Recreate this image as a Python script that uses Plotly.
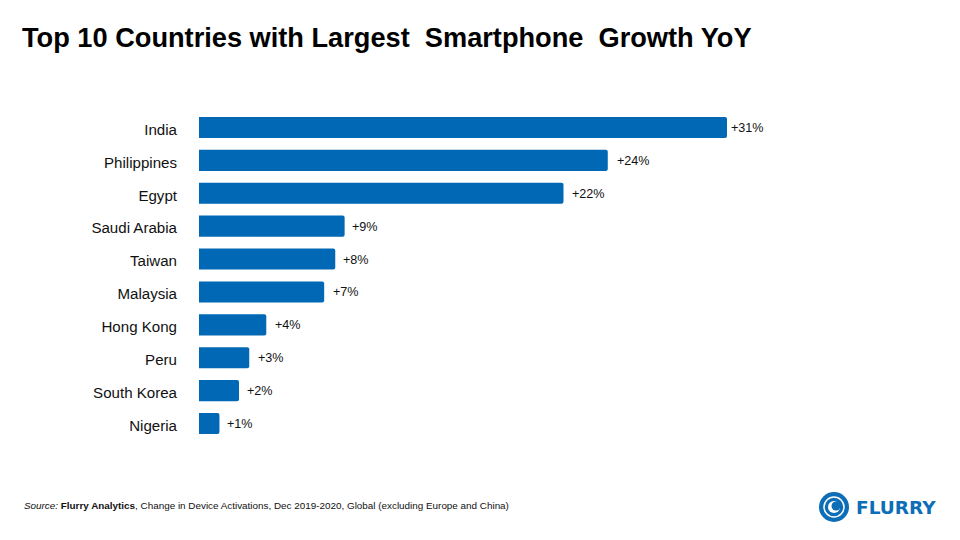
import plotly.graph_objects as go

TEXT_FONT = "Liberation Sans"
BLUE = "#0068b5"
LOGO_BLUE = "#0d6db7"

# the page puts the plot 8px in from the corner, so work in window pixels
OFFSET = 8
WIDTH = 960 - OFFSET
HEIGHT = 540 - OFFSET

countries = ["India", "Philippines", "Egypt", "Saudi Arabia", "Taiwan", "Malaysia",
             "Hong Kong", "Peru", "South Korea", "Nigeria"]
growth = [31.0, 24.0, 21.4, 8.55, 8.0, 7.35, 3.95, 2.95, 2.35, 1.2]
labels = ["+31%", "+24%", "+22%", "+9%", "+8%", "+7%", "+4%", "+3%", "+2%", "+1%"]
label_gaps = [2, 7, 7, 5, 6, 7, 7, 7, 6, 6]


def px(x):
    return (x - OFFSET) / WIDTH


def py(y):
    return 1 - (y - OFFSET) / HEIGHT


def circle(cx, cy, r, **kwargs):
    return dict(type="circle", xref="paper", yref="paper",
                x0=px(cx - r), x1=px(cx + r), y0=py(cy + r), y1=py(cy - r), **kwargs)


def page_text(text, x, y, font):
    return dict(text=text, x=px(x), y=py(y), xref="paper", yref="paper",
                xanchor="left", yanchor="middle", showarrow=False, font=font)


fig = go.Figure(
    go.Bar(
        x=growth,
        y=countries,
        orientation="h",
        width=0.64,
        marker=dict(color=BLUE, line=dict(width=0), cornerradius=2),
    )
)

fig.update_yaxes(
    domain=[py(440), py(111)],
    autorange="reversed",
    showgrid=False,
    showline=False,
    ticks="",
    ticklabelstandoff=21,
    ticklabelshift=-2,
    tickfont=dict(family=TEXT_FONT, size=15.1, color="#111111"),
)
fig.update_xaxes(
    domain=[px(199), 1],
    range=[0, 31 * (960 - 199) / 528],
    visible=False,
)

annotations = [
    page_text("<b>Top 10 Countries with Largest  Smartphone  Growth YoY</b>", 20, 37,
              dict(family=TEXT_FONT, size=27.2, color="#000000")),
    page_text("<i>Source:</i> <b>Flurry Analytics</b>, Change in Device Activations, Dec 2019-2020, Global (excluding Europe and China)",
              22, 505, dict(family=TEXT_FONT, size=9.9, color="#111111")),
    page_text("<b>FLURRY</b>", 854, 507, dict(family="DejaVu Sans", size=18.5, color=LOGO_BLUE)),
]
for country, value, label, gap in zip(countries, growth, labels, label_gaps):
    annotations.append(
        dict(x=value, y=country, text=label, xref="x", yref="y", xanchor="left",
             xshift=gap, yshift=-0.5, showarrow=False,
             font=dict(family=TEXT_FONT, size=12.6, color="#111111"))
    )

fig.update_layout(
    width=WIDTH,
    height=HEIGHT,
    margin=dict(l=0, r=0, t=0, b=0),
    paper_bgcolor="white",
    plot_bgcolor="white",
    showlegend=False,
    annotations=annotations,
    shapes=[
        circle(834, 507, 15, line=dict(width=0), fillcolor=LOGO_BLUE),
        circle(834, 507, 10, line=dict(width=1.5, color="white"), fillcolor=LOGO_BLUE),
        circle(834, 507, 6, line=dict(width=0), fillcolor="white"),
        circle(836, 506, 4.5, line=dict(width=0), fillcolor=LOGO_BLUE),
    ],
)

fig.write_html("out.html")
